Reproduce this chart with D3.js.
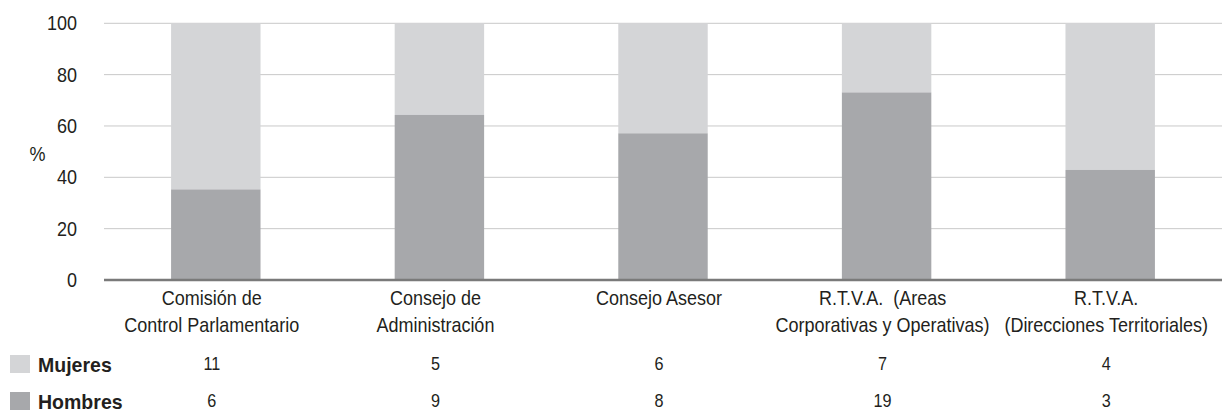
<!DOCTYPE html>
<html>
<head>
<meta charset="utf-8">
<script src="https://cdn.jsdelivr.net/npm/d3@7"></script>
<style>
  body { margin: 0; background: #fff; }
  text { font-family: "Liberation Sans", Arial, sans-serif; fill: #231f20; }
</style>
</head>
<body>
<div id="chart"></div>
<script>
// categories (each split in lines) and counts per series
const categories = [
    ["Comisión de", "Control Parlamentario"],
    ["Consejo de", "Administración"],
    ["Consejo Asesor"],
    ["R.T.V.A.  (Areas", "Corporativas y Operativas)"],
    ["R.T.V.A.", "(Direcciones Territoriales)"]
];
const mujeres = [11, 5, 6, 7, 4];
const hombres = [6, 9, 8, 19, 3];
const yTicks = [0, 20, 40, 60, 80, 100];

let w = 1225, h = 412;
let plotLeft = 104, plotRight = 1222, plotTop = 23.3, plotBottom = 280;
//the reference uses a condensed face, so texts get squeezed horizontally
let narrow = 0.9;

let color = { Hombres: "#a7a8ab", Mujeres: "#d4d5d7" };

let data = categories.map((c, i) => {
    let total = mujeres[i] + hombres[i];
    let ph = hombres[i] / total * 100;
    return { key: i, lines: c, h: ph, m: 100 - ph };
});

let xScale = d3.scaleBand()
    .domain(data.map(d => d.key))
    .range([plotLeft, plotRight])
    .paddingInner(0.6)
    .paddingOuter(0.3);

let yScale = d3.scaleLinear()
    .domain([0, 100])
    .range([plotBottom, plotTop]);

let cx = i => xScale(i) + xScale.bandwidth() / 2;

let svg = d3.select("#chart")
    .append("svg")
    .attr("width", w)
    .attr("height", h);

//gridlines
svg.append("g")
    .selectAll("line")
    .data(yTicks.slice(1))
    .enter()
    .append("line")
    .attr("x1", plotLeft)
    .attr("x2", plotRight)
    .attr("y1", d => yScale(d))
    .attr("y2", d => yScale(d))
    .attr("stroke", "#c9c9c9")
    .attr("stroke-width", 1);

//y labels
let yAxis = d3.axisLeft(yScale).tickValues(yTicks).tickSize(0).tickPadding(27);
let gy = svg.append("g")
    .attr("transform", `translate(${plotLeft}, 0)`)
    .call(yAxis);
gy.select(".domain").remove();
gy.selectAll("text")
    .attr("x", 0)
    .attr("font-size", "20px")
    .attr("fill", "#231f20")
    .style("font-family", "'Liberation Sans', Arial, sans-serif")
    .attr("transform", `translate(-27, 0) scale(${narrow}, 1)`);

svg.append("text")
    .attr("text-anchor", "middle")
    .attr("font-size", "20px")
    .attr("transform", `translate(37.5, 161) scale(${narrow}, 1)`)
    .text("%");

//stacked bars
let bars = svg.selectAll(".bar")
    .data(data)
    .enter()
    .append("g")
    .attr("class", "bar");

bars.append("rect")
    .attr("x", d => xScale(d.key))
    .attr("width", xScale.bandwidth())
    .attr("y", d => yScale(100))
    .attr("height", d => yScale(d.h) - yScale(100))
    .attr("fill", color.Mujeres);

bars.append("rect")
    .attr("x", d => xScale(d.key))
    .attr("width", xScale.bandwidth())
    .attr("y", d => yScale(d.h))
    .attr("height", d => yScale(0) - yScale(d.h))
    .attr("fill", color.Hombres);

//x axis line
svg.append("line")
    .attr("x1", plotLeft)
    .attr("x2", plotRight)
    .attr("y1", plotBottom)
    .attr("y2", plotBottom)
    .attr("stroke", "#7a7a7a")
    .attr("stroke-width", 2.5);

//category labels
let labels = svg.selectAll(".cat")
    .data(data)
    .enter()
    .append("text")
    .attr("class", "cat")
    .attr("text-anchor", "middle")
    .attr("font-size", "20px")
    .attr("transform", d => `translate(${cx(d.key) - 4}, 305) scale(${narrow}, 1)`);

labels.selectAll("tspan")
    .data(d => d.lines)
    .enter()
    .append("tspan")
    .attr("x", 0)
    .attr("y", (d, i) => i * 27.5)
    .style("white-space", "pre")
    .text(d => d);

//table rows with legend
let rows = [
    { name: "Mujeres", values: mujeres, y: 355 },
    { name: "Hombres", values: hombres, y: 392 }
];

let row = svg.selectAll(".row")
    .data(rows)
    .enter()
    .append("g")
    .attr("class", "row");

row.append("rect")
    .attr("x", 10)
    .attr("y", d => d.y)
    .attr("width", 20)
    .attr("height", 18)
    .attr("fill", d => color[d.name]);

row.append("text")
    .attr("font-size", "21px")
    .attr("font-weight", "bold")
    .attr("transform", d => `translate(38, ${d.y + 17}) scale(0.93, 1)`)
    .text(d => d.name);

row.selectAll(".val")
    .data(d => d.values.map((v, i) => ({ v: v, i: i, y: d.y })))
    .enter()
    .append("text")
    .attr("class", "val")
    .attr("text-anchor", "middle")
    .attr("font-size", "18px")
    .attr("transform", d => `translate(${cx(d.i) - 4}, ${d.y + 15}) scale(${narrow}, 1)`)
    .text(d => d.v);
</script>
</body>
</html>
